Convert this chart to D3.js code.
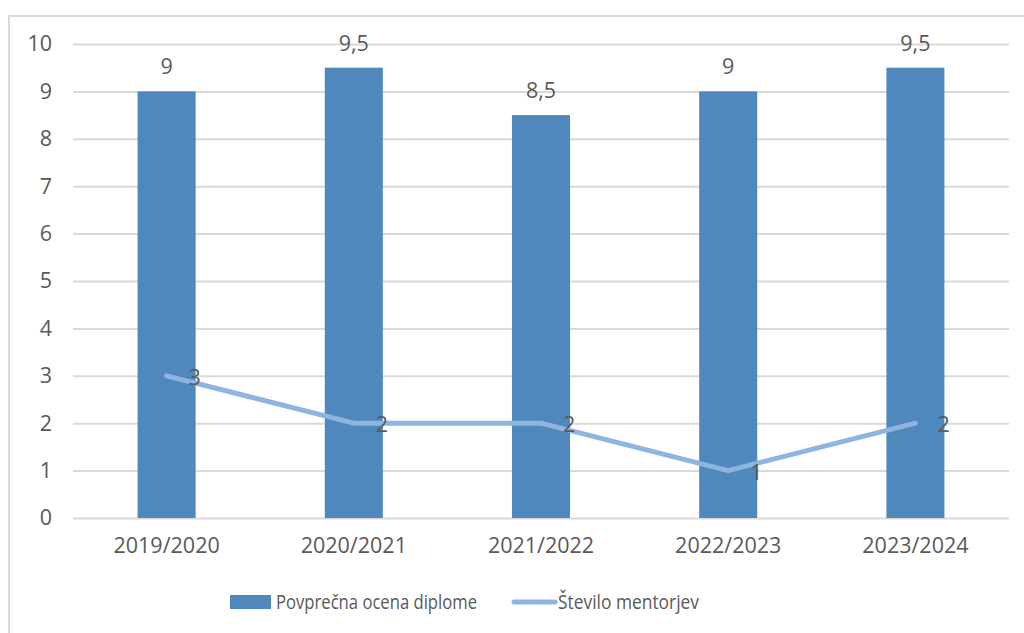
<!DOCTYPE html>
<html>
<head>
<meta charset="utf-8">
<script src="https://cdn.jsdelivr.net/npm/d3@7"></script>
<style>
  body { margin: 0; background: #fff; }
  svg text { font-family: "Open Sans", sans-serif; fill: #595959; }
</style>
</head>
<body>
<svg class="chart"></svg>
<script>
const width = 1024;
const height = 633;
const margin = { top: 44, left: 73 };

// data
const years = ["2019/2020", "2020/2021", "2021/2022", "2022/2023", "2023/2024"];
const grades = [9, 9.5, 8.5, 9, 9.5];
const mentors = [3, 2, 2, 1, 2];
const yTicks = [0, 1, 2, 3, 4, 5, 6, 7, 8, 9, 10];

const barColor = "#4f88bd";
const lineColor = "#8fb4e1";
const labelSize = "21.5px";
const fmt = d => String(d).replace(".", ",");

let svg = d3.select("svg.chart")
    .attr("width", width)
    .attr("height", height);

// chart frame
svg.append("rect")
    .attr("x", 9).attr("y", 16)
    .attr("width", 1030).attr("height", 640)
    .attr("fill", "none")
    .attr("stroke", "#d9d9d9")
    .attr("stroke-width", 2);

let g = svg.append("g")
    .attr("transform", `translate(${margin.left}, ${margin.top})`);

let x = d3.scaleBand()
    .domain(years)
    .range([0, 936])
    .paddingInner(0.69)
    .paddingOuter(0.345);

let xc = d3.scaleBand().domain(years).range([0, 936]);

let y = d3.scaleLinear()
    .domain([0, 10])
    .range([474, 0]);

// gridlines + y tick labels
let yAxis = g.append("g")
    .call(d3.axisLeft(y).tickValues(yTicks).tickSize(-936).tickPadding(21));
yAxis.select(".domain").remove();
yAxis.selectAll("line").attr("stroke", "#d9d9d9").attr("stroke-width", 2);
yAxis.selectAll("text")
    .style("font-size", labelSize)
    .attr("fill", "#595959")
    .style("font-family", "'Open Sans', sans-serif");

// bars
g.selectAll(".bar")
    .data(grades)
  .enter().append("rect")
    .attr("class", "bar")
    .attr("x", (d, i) => x(years[i]))
    .attr("width", x.bandwidth())
    .attr("y", d => y(d))
    .attr("height", d => y(0) - y(d))
    .attr("fill", barColor);

// bar labels
g.selectAll(".barlabel")
    .data(grades)
  .enter().append("text")
    .attr("x", (d, i) => xc(years[i]) + xc.bandwidth() / 2)
    .attr("y", d => y(d) - 17)
    .attr("text-anchor", "middle")
    .style("font-size", labelSize)
    .text(fmt);

// line
let line = d3.line()
    .x((d, i) => xc(years[i]) + xc.bandwidth() / 2)
    .y(d => y(d));

g.append("path")
    .datum(mentors)
    .attr("d", line)
    .attr("fill", "none")
    .attr("stroke", lineColor)
    .attr("stroke-width", 5)
    .attr("stroke-linecap", "round")
    .attr("stroke-linejoin", "round");

g.selectAll(".linelabel")
    .data(mentors)
  .enter().append("text")
    .attr("x", (d, i) => xc(years[i]) + xc.bandwidth() / 2 + 22)
    .attr("y", d => y(d) + 9)
    .style("font-size", labelSize)
    .attr("fill", "#404040")
    .text(fmt);

// x axis labels
let xAxis = g.append("g")
    .attr("transform", `translate(0, ${y(0)})`)
    .call(d3.axisBottom(xc).tickSize(0).tickPadding(20));
xAxis.select(".domain").remove();
xAxis.selectAll("text")
    .style("font-size", labelSize)
    .attr("fill", "#595959")
    .style("font-family", "'Open Sans', sans-serif");

// legend (narrow font in the original, squeezed to fit)
let legend = svg.append("g");
legend.append("rect")
    .attr("x", 230).attr("y", 595)
    .attr("width", 41).attr("height", 14)
    .attr("fill", barColor);
legend.append("text")
    .attr("x", 276).attr("y", 609)
    .style("font-size", "19.5px")
    .attr("textLength", 201)
    .attr("lengthAdjust", "spacingAndGlyphs")
    .text("Povprečna ocena diplome");
legend.append("line")
    .attr("x1", 514).attr("x2", 555)
    .attr("y1", 602).attr("y2", 602)
    .attr("stroke", lineColor)
    .attr("stroke-width", 5)
    .attr("stroke-linecap", "round");
legend.append("text")
    .attr("x", 558).attr("y", 609)
    .style("font-size", "19.5px")
    .attr("textLength", 141)
    .attr("lengthAdjust", "spacingAndGlyphs")
    .text("Število mentorjev");
</script>
</body>
</html>
